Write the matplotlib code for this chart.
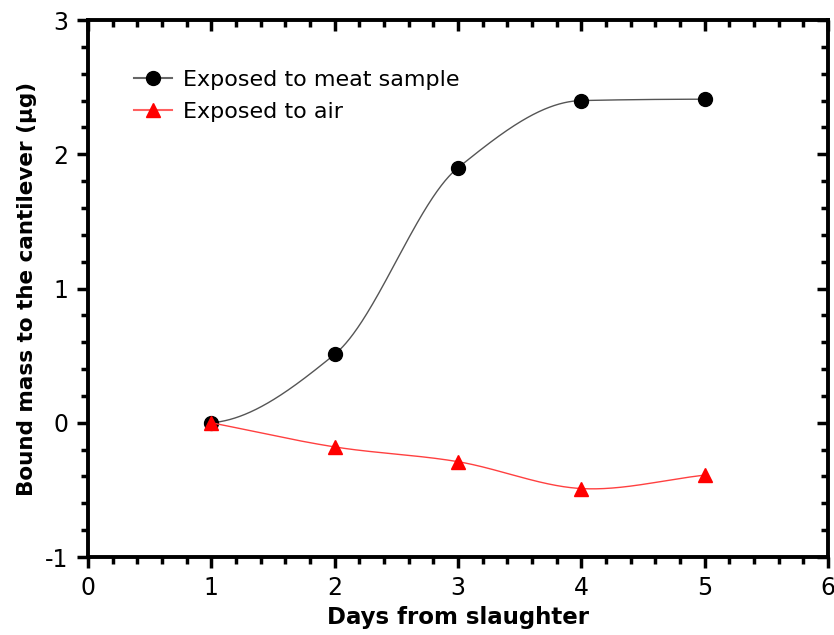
import numpy as np
import matplotlib.pyplot as plt
from matplotlib.ticker import MultipleLocator

days = [1, 2, 3, 4, 5]
meat = [0.0, 0.51, 1.90, 2.40, 2.41]
air = [0.0, -0.18, -0.29, -0.49, -0.39]


def hermite(x, y, m, n=200):
    xs, ys = [], []
    for i in range(len(x) - 1):
        h = x[i + 1] - x[i]
        t = np.linspace(0, 1, n)
        h00 = 2 * t**3 - 3 * t**2 + 1
        h10 = t**3 - 2 * t**2 + t
        h01 = -2 * t**3 + 3 * t**2
        h11 = t**3 - t**2
        xs.append(x[i] + t * h)
        ys.append(h00 * y[i] + h10 * h * m[i] + h01 * y[i + 1] + h11 * h * m[i + 1])
    return np.concatenate(xs), np.concatenate(ys)


def pchip_slopes(x, y):
    x = np.asarray(x, float)
    y = np.asarray(y, float)
    h = np.diff(x)
    d = np.diff(y) / h
    m = np.zeros_like(y)
    for i in range(1, len(y) - 1):
        if d[i - 1] * d[i] > 0:
            m[i] = 2 / (1 / d[i - 1] + 1 / d[i])
    m0 = ((2 * h[0] + h[1]) * d[0] - h[0] * d[1]) / (h[0] + h[1])
    m[0] = m0 if m0 * d[0] > 0 else 0
    mn = ((2 * h[-1] + h[-2]) * d[-1] - h[-1] * d[-2]) / (h[-1] + h[-2])
    m[-1] = mn if mn * d[-1] > 0 else 0
    return m


plt.rcParams['font.family'] = 'DejaVu Sans'
plt.rcParams['axes.unicode_minus'] = False

fig = plt.figure(figsize=(8.34, 6.35), dpi=100)
pos = [0.1055, 0.1228, 0.8875, 0.8457]
ax = fig.add_axes(pos)

x = np.array(days, float)
sx, sy = hermite(x, np.array(meat), pchip_slopes(days, meat))
ax.plot(sx, sy, color='#555555', lw=1.0)
ax.plot(days, meat, 'o', color='black', ms=10)
ax.plot([], [], '-o', color='#666666', mfc='black', mec='black', ms=10, lw=1.5,
        label='Exposed to meat sample')

sx, sy = hermite(x, np.array(air), np.gradient(np.array(air), x))
ax.plot(sx, sy, color='#ff4040', lw=1.0)
ax.plot(days, air, '^', color='red', ms=10)
ax.plot([], [], '-^', color='#ff6060', mfc='red', mec='red', ms=10, lw=1.5,
        label='Exposed to air')

ax.set_xlim(0, 6)
ax.set_ylim(-1, 3)
ax.xaxis.set_major_locator(MultipleLocator(1))
ax.xaxis.set_minor_locator(MultipleLocator(0.2))
ax.yaxis.set_major_locator(MultipleLocator(1))
ax.yaxis.set_minor_locator(MultipleLocator(0.2))

for s in ax.spines.values():
    s.set_linewidth(2.8)

ax.tick_params(which='major', direction='out', length=8, width=2.5, labelsize=17, pad=6)
ax.tick_params(which='minor', direction='out', length=5, width=2.5)

# overlay for the inward ticks on top and right
ov = fig.add_axes(pos, sharex=ax, sharey=ax, frameon=False)
ov.patch.set_visible(False)
ov.tick_params(which='both', direction='in', left=False, bottom=False, top=True, right=True,
               labelleft=False, labelbottom=False, width=2.5)
ov.tick_params(which='major', length=8)
ov.tick_params(which='minor', length=5)

ax.set_xlabel('Days from slaughter', fontsize=16.5, fontweight='bold', labelpad=4)
ax.set_ylabel('Bound mass to the cantilever (μg)', fontsize=15.5, fontweight='bold', labelpad=6)

ax.legend(loc='upper left', bbox_to_anchor=(0.035, 0.945), frameon=False, fontsize=16,
          handlelength=1.7, handletextpad=0.5, labelspacing=0.55)

fig.savefig('out.png', dpi=100)
